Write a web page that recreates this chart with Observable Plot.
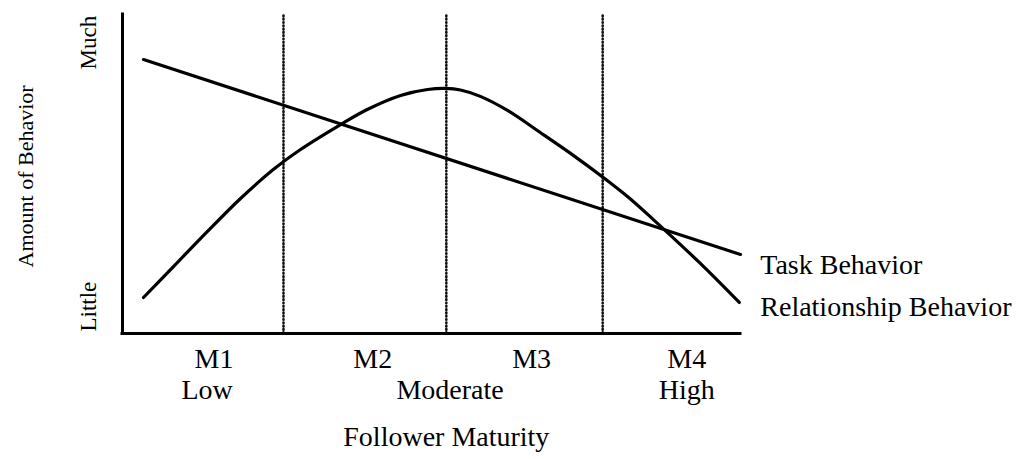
<!DOCTYPE html>
<html>
<head>
<meta charset="utf-8">
<script src="https://cdn.jsdelivr.net/npm/d3@7"></script>
<script src="https://cdn.jsdelivr.net/npm/@observablehq/plot@0.6"></script>
<style>
  html, body { margin: 0; padding: 0; background: white; }
  #chart { width: 1029px; height: 459px; }
</style>
</head>
<body>
<div id="chart"></div>
<script>
// Task Behavior (straight line)
const taskX = [3.4, 100];
const taskY = [85.6, 24.7];

// Relationship Behavior (bell-shaped curve)
const relX = [3.4, 8.25, 13.75, 19.1, 24.4, 28.8, 35.3, 39.6, 45.0, 49.35, 52.3, 54.7, 57.9, 62.3, 67.6, 73.0, 77.8, 81.9, 85.9, 93.5, 99.8];
const relY = [11.25, 20.9, 31.9, 42.2, 51.25, 57.5, 65.3, 70.0, 74.4, 76.25, 76.6, 76.1, 74.1, 69.7, 62.8, 55.6, 48.75, 42.5, 35.6, 21.9, 9.7];

// Maturity boundaries (dotted separators)
const boundaries = [26.05, 52.4, 77.7];

// Axis labels
const levels = ["M1", "M2", "M3", "M4"];
const levelX = [14.8, 40.5, 66.2, 91.3];
const degrees = ["Low", "Moderate", "High"];
const degreeX = [13.7, 53.0, 91.3];
const seriesNames = ["Task Behavior", "Relationship Behavior"];
const seriesLabelY = [18.75, 5.6];
const amountLabels = ["Much", "Little"];
const amountY = [90.9, 8.4];

const task = taskX.map((x, i) => ({x, y: taskY[i]}));
const rel = relX.map((x, i) => ({x, y: relY[i]}));

const chart = Plot.plot({
  width: 1029,
  height: 459,
  marginLeft: 122,
  marginRight: 289,
  marginTop: 13,
  marginBottom: 126,
  x: {domain: [0, 100], axis: null},
  y: {domain: [0, 100], axis: null},
  style: {fontFamily: "'Liberation Serif', 'Times New Roman', serif", background: "white", color: "black", overflow: "visible"},
  marks: [
    Plot.ruleX(boundaries, {y1: 0, y2: 100, stroke: "#111", strokeWidth: 2.6, strokeDasharray: "0.6,2.7", strokeLinecap: "round"}),
    Plot.ruleX([0], {y1: 0, y2: 99.7, stroke: "black", strokeWidth: 3, strokeLinecap: "square"}),
    Plot.ruleY([0], {x1: 0, x2: 100, stroke: "black", strokeWidth: 3, strokeLinecap: "square"}),
    Plot.line(task, {x: "x", y: "y", stroke: "black", strokeWidth: 3.2}),
    Plot.line(rel, {x: "x", y: "y", stroke: "black", strokeWidth: 3.2, curve: "catmull-rom"}),
    Plot.text(levels, {x: (d, i) => levelX[i], text: d => d, frameAnchor: "bottom", lineAnchor: "bottom", dy: 34, fontSize: 28, fill: "black"}),
    Plot.text(degrees, {x: (d, i) => degreeX[i], text: d => d, frameAnchor: "bottom", lineAnchor: "bottom", dy: 65, fontSize: 28, fill: "black"}),
    Plot.text(["Follower Maturity"], {x: 52.4, text: d => d, frameAnchor: "bottom", lineAnchor: "bottom", dy: 112, fontSize: 28, fill: "black"}),
    Plot.text(seriesNames, {x: 103.2, y: (d, i) => seriesLabelY[i], text: d => d, textAnchor: "start", lineAnchor: "bottom", fontSize: 28, fill: "black"}),
    Plot.text(amountLabels, {y: (d, i) => amountY[i], text: d => d, frameAnchor: "left", textAnchor: "middle", dx: -34, rotate: -90, fontSize: 23, fill: "black"}),
    Plot.text(["Amount of Behavior"], {y: 49.1, text: d => d, frameAnchor: "left", textAnchor: "middle", dx: -97, rotate: -90, fontSize: 22, fill: "black"})
  ]
});
document.getElementById("chart").appendChild(chart);
</script>
</body>
</html>
